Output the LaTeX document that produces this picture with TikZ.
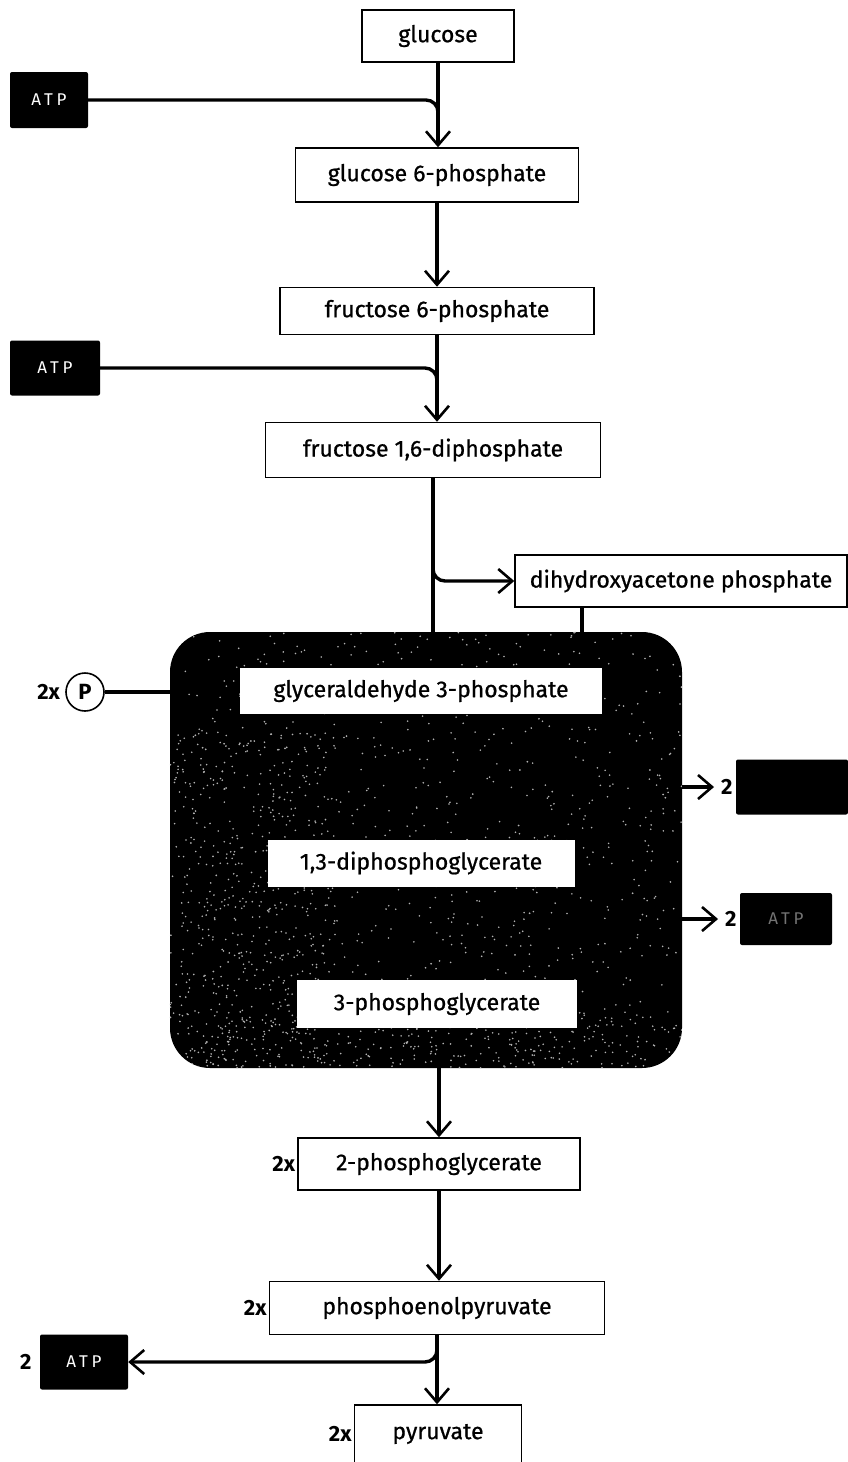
\documentclass[tikz,border=0pt]{standalone}
\usepackage{fontspec}
\setmainfont{Fira Sans}
\usetikzlibrary{arrows.meta}
\begin{document}
\begin{tikzpicture}[x=1pt,y=-1pt,
  txt/.style={font=\fontsize{23}{26}\selectfont\addfontfeatures{FakeBold=0.8}},
  box/.style={draw, line width=1.5pt, fill=white, inner sep=0pt, txt},
  inbox/.style={fill=white, inner sep=0pt, txt},
  blk/.style={fill=black, rounded corners=2pt, inner sep=0pt, text=white, font=\fontsize{17}{20}\selectfont\addfontfeatures{LetterSpace=22}},
  lbl/.style={font=\bfseries\fontsize{22}{24}\selectfont, inner sep=2pt},
  line3/.style={line width=3.4pt},
  flow/.style={line width=3.4pt, -{Straight Barb[length=14pt,width=24pt,line width=2.6pt]}},
]
\useasboundingbox (0,0) rectangle (848,1462);
% main chain
\node[box, minimum width=152, minimum height=52] (glc) at (438,36) {glucose};
\node[blk, minimum width=78, minimum height=56] (atp1) at (49,100) {ATP};
\node[box, minimum width=283, minimum height=54] (g6p) at (437,175) {glucose 6-phosphate};
\node[box, minimum width=314, minimum height=47] (f6p) at (437,311) {fructose 6-phosphate};
\node[blk, minimum width=90, minimum height=55] (atp2) at (55,368) {ATP};
\node[box, minimum width=335, minimum height=55] (f16) at (433,450) {fructose 1,6-diphosphate};
\node[box, minimum width=332, minimum height=52] (dhap) at (681,581) {dihydroxyacetone phosphate};
% dark region
\node[fill=black, rounded corners=40pt, minimum width=512, minimum height=436, inner sep=0pt] (dark) at (426,850) {};
\begin{scope}
  \clip[rounded corners=40pt] (dark.south west) rectangle (dark.north east);
  \pgfmathsetseed{7}
  \foreach \i in {1,...,900}{\fill[white!70!black] ({426+256*rand},{850+218*rand}) circle (0.9);}
  \foreach \i in {1,...,400}{\fill[white!70!black] ({250+80*rand},{900+168*rand}) circle (0.9);}
  \foreach \i in {1,...,300}{\fill[white!70!black] ({426+256*rand},{1040+28*rand}) circle (0.9);}
\end{scope}
\node[inbox, minimum width=362, minimum height=46] (ga3p) at (421,691) {glyceraldehyde 3-phosphate};
\node[inbox, minimum width=307, minimum height=47] (bpg) at (421,863) {1,3-diphosphoglycerate};
\node[inbox, minimum width=280, minimum height=48] (pg3) at (437,1004) {3-phosphoglycerate};
% left phosphate
\node[draw, circle, line width=1.6pt, minimum size=38, inner sep=0pt, font=\bfseries\fontsize{22}{24}\selectfont] (pc) at (85,692) {P};
\node[lbl, anchor=east] (px) at ([xshift=-3]pc.west) {2x};
% right outputs
\node[blk, minimum width=112, minimum height=55] (nadh) at (792,787) {};
\node[lbl, anchor=east] (n2) at ([xshift=-1]nadh.west) {2};
\node[blk, minimum width=92, minimum height=52, text=black!55] (atp4) at (786,919) {ATP};
\node[lbl, anchor=east] (a2) at ([xshift=-1]atp4.west) {2};
% lower chain
\node[box, minimum width=282, minimum height=52] (pg2) at (439,1164) {2-phosphoglycerate};
\node[lbl, anchor=east] at (pg2.west) {2x};
\node[box, minimum width=335, minimum height=53] (pep) at (437,1308) {phosphoenolpyruvate};
\node[lbl, anchor=east] at (pep.west) {2x};
\node[blk, minimum width=88, minimum height=55] (atp3) at (84,1362) {ATP};
\node[lbl, anchor=east] at ([xshift=-6]atp3.west) {2};
\node[box, minimum width=167, minimum height=58] (pyr) at (438,1434) {pyruvate};
\node[lbl, anchor=east] at (pyr.west) {2x};
% connectors
\draw[flow] (glc.south) -- (glc.south |- g6p.north);
\draw[line3, rounded corners=12pt] (atp1.east) -- (atp1.east -| glc.south) -- ([yshift=-28]atp1.east -| glc.south);
\draw[flow] (g6p.south) -- (g6p.south |- f6p.north);
\draw[flow] (f6p.south) -- (f6p.south |- f16.north);
\draw[line3, rounded corners=12pt] (atp2.east) -- (atp2.east -| f6p.south) -- ([yshift=-28]atp2.east -| f6p.south);
\draw[line3] (f16.south) -- (f16.south |- dark.north);
\coordinate (br) at ([yshift=-80]f16.south);
\draw[flow, rounded corners=12pt] (br) -- (br |- dhap.west) -- (dhap.west);
\coordinate (dd) at ([xshift=-99]dhap.south);
\draw[line3] (dd) -- (dd |- dark.north);
\draw[line3] (pc.east) -- (pc.east -| dark.west);
\draw[flow] (n2.west -| dark.east) -- ([xshift=-5]n2.west);
\draw[flow] (a2.west -| dark.east) -- ([xshift=-5]a2.west);
\coordinate (db) at (dark.south -| pg2.north);
\draw[flow] (db) -- (pg2.north);
\draw[flow] (pg2.south) -- (pg2.south |- pep.north);
\draw[flow] (pep.south) -- (pep.south |- pyr.north);
\coordinate (pb) at ([yshift=-5]pep.south);
\draw[flow, rounded corners=12pt] (pb) -- (pb |- atp3.east) -- (atp3.east);
\end{tikzpicture}
\end{document}
